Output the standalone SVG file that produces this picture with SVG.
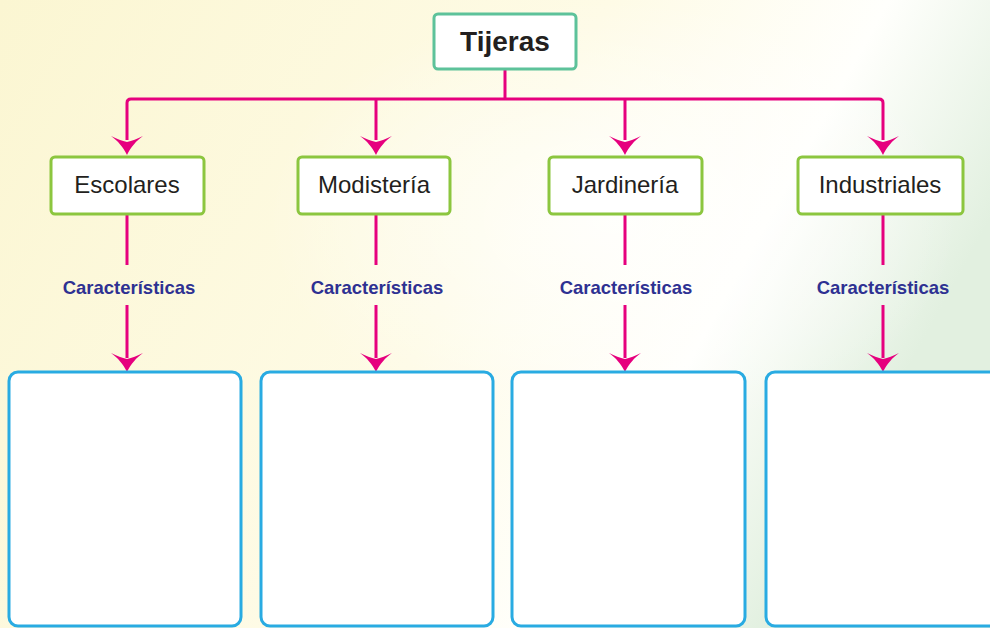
<svg xmlns="http://www.w3.org/2000/svg" width="990" height="628" viewBox="0 0 990 628">
<defs>
<linearGradient id="bg" x1="0" y1="0" x2="1" y2="0.35">
<stop offset="0" stop-color="#fbf6d2"/>
<stop offset="0.55" stop-color="#fefbe6"/>
<stop offset="0.8" stop-color="#fffffc"/>
<stop offset="1" stop-color="#e2f0e0"/>
</linearGradient>
<radialGradient id="glow" cx="0.62" cy="0.35" r="0.35">
<stop offset="0" stop-color="#ffffff" stop-opacity="0.8"/>
<stop offset="1" stop-color="#ffffff" stop-opacity="0"/>
</radialGradient>
<path id="ah" d="M0,0 C-4,-8 -9,-14 -16,-19 C-10,-16 -5,-14 0,-13 C5,-14 10,-16 16,-19 C9,-14 4,-8 0,0 Z" fill="#e6007e"/>
</defs>
<style>
.top{fill:#fff;stroke:#5dc29a;stroke-width:3}
.mid{fill:#fff;stroke:#8cc63f;stroke-width:3}
.bot{fill:#fff;stroke:#29abe2;stroke-width:3}
.ln{fill:none;stroke:#e6007e;stroke-width:3;stroke-linejoin:round}
.t1{font-family:"Liberation Sans",Arial,sans-serif;font-weight:bold;font-size:28px;fill:#231f20;text-anchor:middle}
.t2{font-family:"Liberation Sans",Arial,sans-serif;font-size:24px;fill:#231f20;text-anchor:middle}
.t3{font-family:"Liberation Sans",Arial,sans-serif;font-weight:bold;font-size:18.5px;fill:#2e3192;text-anchor:middle}
</style>
<rect x="0" y="0" width="990" height="628" fill="url(#bg)"/>
<rect x="0" y="0" width="990" height="628" fill="url(#glow)"/>

<g id="connectors">
<path class="ln" d="M505,69 V99"/>
<path class="ln" d="M127,140 V103 Q127,99 131,99 H879 Q883,99 883,103 V140"/>
<path class="ln" d="M376,99 V140"/>
<path class="ln" d="M625,99 V140"/>
<use href="#ah" x="127" y="155"/>
<use href="#ah" x="376" y="155"/>
<use href="#ah" x="625" y="155"/>
<use href="#ah" x="883" y="155"/>
<path class="ln" d="M127,214 V265 M127,305 V358"/>
<path class="ln" d="M376,214 V265 M376,305 V358"/>
<path class="ln" d="M625,214 V265 M625,305 V358"/>
<path class="ln" d="M883,214 V265 M883,305 V358"/>
<use href="#ah" x="127" y="372"/>
<use href="#ah" x="376" y="372"/>
<use href="#ah" x="625" y="372"/>
<use href="#ah" x="883" y="372"/>
<text class="t3" x="129" y="294">Características</text>
<text class="t3" x="377" y="294">Características</text>
<text class="t3" x="626" y="294">Características</text>
<text class="t3" x="883" y="294">Características</text>
</g>

<g id="tijeras">
<rect class="top" x="434" y="14" width="142" height="55" rx="4"/>
<text class="t1" x="505" y="51">Tijeras</text>
</g>
<g id="escolares">
<rect class="mid" x="51" y="157" width="153" height="57" rx="4"/>
<text class="t2" x="127" y="193">Escolares</text>
</g>
<g id="modisteria">
<rect class="mid" x="298" y="157" width="152" height="57" rx="4"/>
<text class="t2" x="374" y="193">Modistería</text>
</g>
<g id="jardineria">
<rect class="mid" x="549" y="157" width="153" height="57" rx="4"/>
<text class="t2" x="625" y="193">Jardinería</text>
</g>
<g id="industriales">
<rect class="mid" x="798" y="157" width="165" height="57" rx="4"/>
<text class="t2" x="880" y="193">Industriales</text>
</g>

<g id="box1"><rect class="bot" x="9" y="372" width="232" height="254" rx="9"/></g>
<g id="box2"><rect class="bot" x="261" y="372" width="232" height="254" rx="9"/></g>
<g id="box3"><rect class="bot" x="512" y="372" width="233" height="254" rx="9"/></g>
<g id="box4"><rect class="bot" x="766" y="372" width="234" height="254" rx="9"/></g>
</svg>
